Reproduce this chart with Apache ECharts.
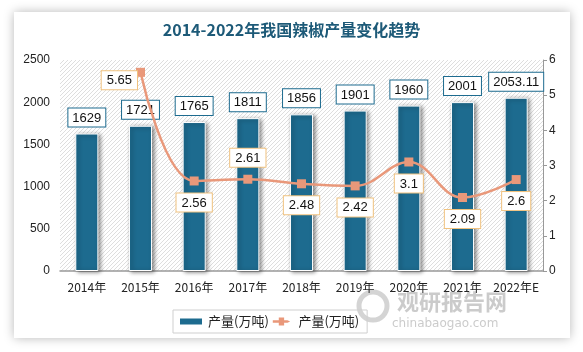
<!DOCTYPE html>
<html lang="zh">
<head>
  <meta charset="UTF-8">
  <title>2014-2022年我国辣椒产量变化趋势</title>
  <style>
    html, body { margin: 0; padding: 0; background: #fff; }
    #chart { width: 583px; height: 352px; }
  </style>
  <script src="https://cdn.jsdelivr.net/npm/echarts@6/dist/echarts.min.js"></script>
</head>
<body>
<div id="chart"></div>
<script>
  // 数据
  const years = ['2014年', '2015年', '2016年', '2017年', '2018年', '2019年', '2020年', '2021年', '2022年E']
  const output = [1629, 1721, 1765, 1811, 1856, 1901, 1960, 2001, 2053.11]
  const growth = ['-', 5.65, 2.56, 2.61, 2.48, 2.42, 3.1, 2.09, 2.6]
  // 折线标签位置
  const growthLabelPos = [null, 'left', 'bottom', 'top', 'bottom', 'bottom', 'bottom', 'bottom', 'bottom']

  // 斜线底纹
  const hatch = document.createElement('canvas')
  hatch.width = 4
  hatch.height = 4
  const hc = hatch.getContext('2d')
  hc.fillStyle = '#ffffff'
  hc.fillRect(0, 0, 4, 4)
  hc.strokeStyle = '#dedede'
  hc.lineWidth = 1
  hc.beginPath()
  hc.moveTo(0, 4); hc.lineTo(4, 0)
  hc.moveTo(-1, 1); hc.lineTo(1, -1)
  hc.moveTo(3, 5); hc.lineTo(5, 3)
  hc.stroke()

  const chart = echarts.init(document.getElementById('chart'))

  const lineData = growth.map((v, i) => {
    if (v === '-') return v
    if (i === 1) {
      return { value: v, label: { position: 'left', distance: 1, offset: [2, 8] } }
    }
    return {
      value: v,
      label: { position: growthLabelPos[i], distance: 8 }
    }
  })

  const option = {
    backgroundColor: '#ffffff',
    animation: false,
    title: {
      text: '2014-2022年我国辣椒产量变化趋势',
      left: 'center',
      top: 17,
      textStyle: {
        color: '#1d5a78',
        fontSize: 16,
        fontWeight: 'bold',
        fontFamily: 'Noto Sans CJK SC'
      }
    },
    graphic: [
      {
        type: 'rect',
        z: -10,
        shape: { x: 14, y: 12, width: 556, height: 326 },
        style: { fill: '#fff', shadowBlur: 10, shadowColor: 'rgba(0,0,0,0.28)' }
      },
      {
        type: 'text',
        left: 397,
        top: 291,
        z: 0,
        style: { text: '观研报告网', fill: 'rgba(160,160,160,0.55)', font: 'bold 22px "Noto Sans CJK SC"' }
      },
      {
        type: 'text',
        left: 392,
        top: 318,
        z: 0,
        style: { text: 'chinabaogao.com', fill: 'rgba(160,160,160,0.55)', font: '12px "DejaVu Sans"' }
      },
      {
        type: 'circle',
        z: 0,
        shape: { cx: 373, cy: 306, r: 14 },
        style: { fill: 'none', stroke: 'rgba(170,170,170,0.5)', lineWidth: 5 }
      }
    ],
    legend: {
      bottom: 19,
      left: 173,
      itemGap: 4,
      itemWidth: 24,
      itemHeight: 8,
      padding: [5, 5],
      borderColor: '#cfcfcf',
      borderWidth: 1,
      textStyle: { fontSize: 13, color: '#222', fontFamily: 'Noto Sans CJK SC' },
      data: [
        { name: '产量(万吨)', icon: 'rect' },
        { name: '产量(万吨) ', icon: 'path://M0,4L9,4L9,0L17,0L17,4L22,4L26,6L22,8L17,8L17,12L9,12L9,8L0,8Z' }
      ]
    },
    grid: {
      left: 60,
      right: 40,
      top: 60,
      bottom: 81,
      show: true,
      borderWidth: 0,
      backgroundColor: { image: hatch, repeat: 'repeat' }
    },
    xAxis: {
      type: 'category',
      data: years,
      axisLine: { lineStyle: { color: '#999', width: 1.5 } },
      axisTick: { show: false },
      axisLabel: { color: '#222', fontSize: 12, margin: 10, interval: 0, fontFamily: 'Noto Sans CJK SC' }
    },
    yAxis: [
      {
        type: 'value',
        min: 0,
        max: 2500,
        interval: 500,
        splitLine: { show: false },
        axisLine: { show: false },
        axisTick: { show: false },
        axisLabel: { color: '#222', fontSize: 12, margin: 10, formatter: v => String(v) }
      },
      {
        type: 'value',
        min: 0,
        max: 6,
        interval: 1,
        splitLine: { show: false },
        axisLine: { show: true, lineStyle: { color: '#999', width: 1 } },
        axisTick: { show: true, length: 4, lineStyle: { color: '#999' } },
        axisLabel: { color: '#222', fontSize: 12, margin: 6 }
      }
    ],
    series: [
      {
        name: '产量(万吨)',
        type: 'bar',
        barWidth: '43%',
        data: output,
        itemStyle: {
          color: '#1d6b8f',
          borderColor: '#fff',
          borderWidth: 1,
          shadowBlur: 4,
          shadowOffsetX: 2,
          shadowOffsetY: 1,
          shadowColor: 'rgba(0,0,0,0.45)'
        },
        label: {
          show: true,
          position: 'top',
          distance: 7,
          color: '#111',
          fontSize: 13,
          backgroundColor: '#fff',
          borderColor: '#1d6b8f',
          borderWidth: 1,
          padding: [3, 4, 2, 4]
        }
      },
      {
        name: '产量(万吨) ',
        type: 'line',
        yAxisIndex: 1,
        smooth: 0.4,
        data: lineData,
        symbol: 'rect',
        symbolSize: 9,
        lineStyle: { color: '#e9987a', width: 2.5 },
        itemStyle: { color: '#e9987a' },
        label: {
          show: true,
          color: '#111',
          fontSize: 13,
          backgroundColor: '#fff',
          borderColor: '#f0c27f',
          borderWidth: 1,
          padding: [3, 5, 2, 5]
        }
      }
    ]
  }
  chart.setOption(option)
</script>
</body>
</html>
